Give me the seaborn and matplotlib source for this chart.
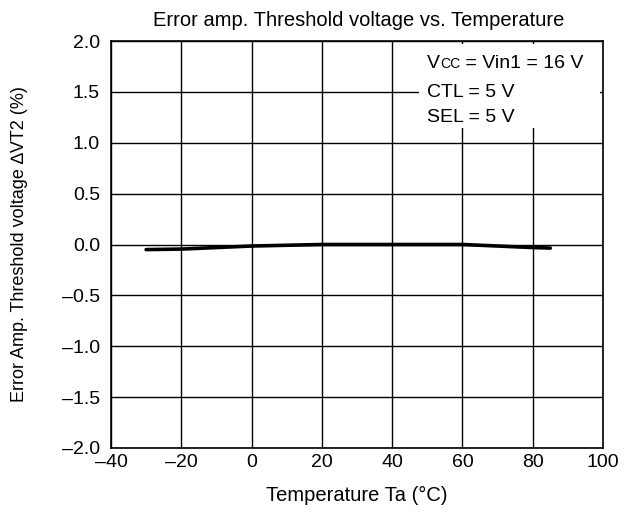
import matplotlib
matplotlib.use("Agg")
import matplotlib.pyplot as plt
import matplotlib.ticker as mticker
from matplotlib.patches import Rectangle
import seaborn as sns
import pandas as pd

temps = [-30, -20, 0, 20, 40, 60, 80, 85]
dvt2 = [-0.05, -0.045, -0.015, 0.0, 0.0, 0.0, -0.03, -0.035]

x_ticks = [-40, -20, 0, 20, 40, 60, 80, 100]
y_ticks = [-2.0, -1.5, -1.0, -0.5, 0.0, 0.5, 1.0, 1.5, 2.0]

title = "Error amp. Threshold voltage vs. Temperature"
xlabel = "Temperature Ta (\u00b0C)"
ylabel = "Error Amp. Threshold voltage \u2206VT2 (%)"
cond_lines = ["CTL = 5 V", "SEL = 5 V"]

sns.set_theme(style="white")
plt.rcParams["font.family"] = ["Liberation Sans", "DejaVu Sans"]

df = pd.DataFrame({"temp": temps, "dvt2": dvt2})

fig = plt.figure(figsize=(6.32, 5.12), dpi=100)
ax = fig.add_axes([111 / 632, 1 - 448 / 512, 492 / 632, 407 / 512])

sns.lineplot(data=df, x="temp", y="dvt2", color="black", lw=2.6, ax=ax, zorder=3)

ax.set_xlim(-40, 100)
ax.set_ylim(-2.0, 2.0)
ax.set_xticks(x_ticks)
ax.set_yticks(y_ticks)
dash = lambda s: s.replace("-", "\u2013")
ax.xaxis.set_major_formatter(mticker.FuncFormatter(lambda v, p: dash(f"{v:g}")))
ax.yaxis.set_major_formatter(mticker.FuncFormatter(lambda v, p: dash(f"{v:.1f}")))
ax.grid(True, color="black", lw=1.0)
ax.set_axisbelow(True)
for s in ax.spines.values():
    s.set_color("black")
    s.set_linewidth(1.2)
    s.set_zorder(5)
ax.tick_params(axis="x", length=0, labelsize=14, colors="black", pad=4)
ax.tick_params(axis="y", length=0, labelsize=14, colors="black", pad=8)

ax.set_xlabel(xlabel, fontsize=14.5, color="black")
ax.xaxis.set_label_coords(0.5, -0.094)
ax.set_ylabel(ylabel, fontsize=13, color="black")
ax.yaxis.set_label_coords(-0.169, 0.5)
fig.text(0.5 * (111 + 603) / 632 + 0.003, 1 - 20 / 512, title, ha="center", va="center",
         fontsize=14.5, color="black")

# white box behind the conditions
ax.add_patch(Rectangle((0.627, 0.786), 0.367, 0.207, transform=ax.transAxes,
                       facecolor="white", edgecolor="none", zorder=1))

fs = 14
x0 = 0.642
base = [0.934, 0.862, 0.801]
fig.canvas.draw()
renderer = fig.canvas.get_renderer()
t = ax.text(x0, base[0], "V", transform=ax.transAxes, va="baseline", ha="left",
            fontsize=fs, color="black", zorder=4)
xe = ax.transAxes.inverted().transform((t.get_window_extent(renderer).x1, 0))[0]
t = ax.text(xe, base[0], "CC", transform=ax.transAxes, va="baseline", ha="left",
            fontsize=fs * 0.72, color="black", zorder=4)
xe = ax.transAxes.inverted().transform((t.get_window_extent(renderer).x1, 0))[0]
ax.text(xe, base[0], " = Vin1 = 16 V", transform=ax.transAxes, va="baseline", ha="left",
        fontsize=fs, color="black", zorder=4)
for yb, line in zip(base[1:], cond_lines):
    ax.text(x0, yb, line, transform=ax.transAxes, va="baseline", ha="left",
            fontsize=fs, color="black", zorder=4)

fig.savefig("out.png", dpi=100)
